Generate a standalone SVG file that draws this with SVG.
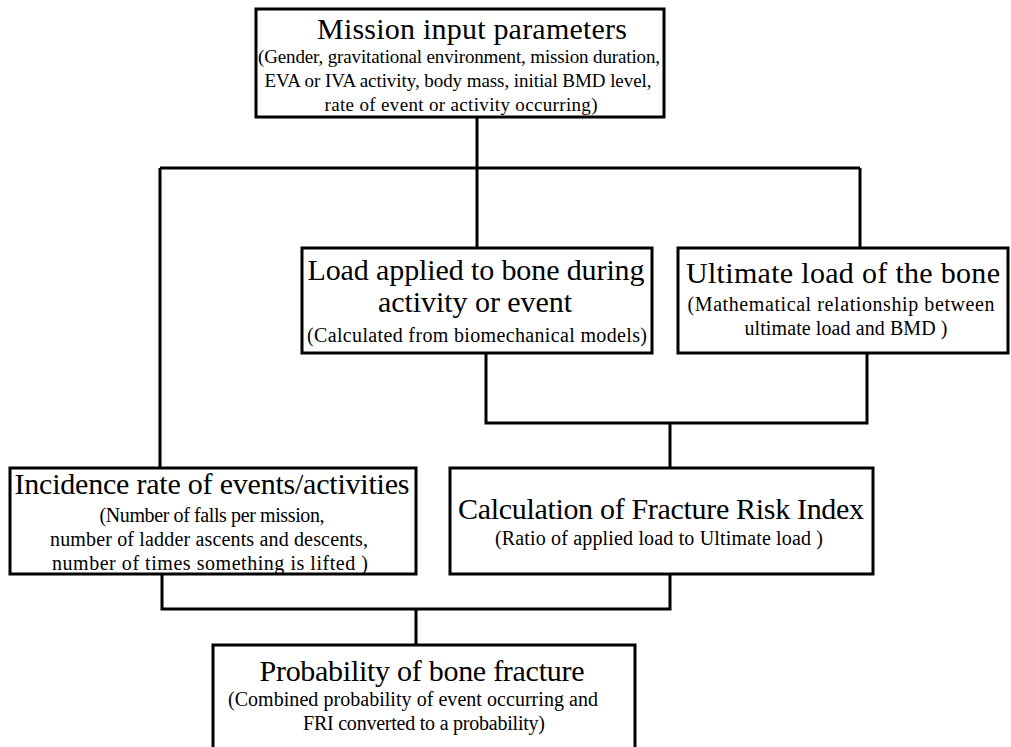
<svg xmlns="http://www.w3.org/2000/svg" width="1011" height="747" viewBox="0 0 1011 747">
<style>
.box{fill:#fff;stroke:#000;stroke-width:3}
.ln{fill:none;stroke:#000;stroke-width:3}
.t{font-size:30px;fill:#000;text-anchor:middle}
.s{font-size:20px;fill:#000;text-anchor:middle}
.s2{font-size:19px;fill:#000;text-anchor:middle}
</style>
<rect width="1011" height="747" fill="#fff"/>
<g id="connectors">
<path class="ln" d="M477,117V248M160,168H860M160,168V468M860,168V248"/>
<path class="ln" d="M486,353V423H867V353M670,423V468"/>
<path class="ln" d="M162,574V609H670V574M416,609V645"/>
</g>
<g font-family="'Liberation Serif', 'DejaVu Serif', serif">
<g id="mission">
<rect class="box" x="256" y="9" width="408" height="108"/>
<text class="t" x="472" y="39" textLength="310">Mission input parameters</text>
<text class="s2" x="459" y="63" textLength="402">(Gender, gravitational environment, mission duration,</text>
<text class="s2" x="458" y="87" textLength="387">EVA or IVA activity, body mass, initial BMD level,</text>
<text class="s2" x="461" y="111" textLength="273">rate of event or activity occurring)</text>
</g>
<g id="load">
<rect class="box" x="302" y="248" width="350" height="105"/>
<text class="t" x="476" y="280" textLength="337">Load applied to bone during</text>
<text class="t" x="475" y="312" textLength="194">activity or event</text>
<text class="s" x="477" y="342" textLength="340">(Calculated from biomechanical models)</text>
</g>
<g id="ultimate">
<rect class="box" x="678" y="248" width="330" height="105"/>
<text class="t" x="843" y="283" textLength="314">Ultimate load of the bone</text>
<text class="s" x="841" y="311" textLength="307">(Mathematical relationship between</text>
<text class="s" x="846" y="335" textLength="203">ultimate load and BMD )</text>
</g>
<g id="incidence">
<rect class="box" x="10" y="468" width="406" height="106"/>
<text class="t" x="212" y="494" textLength="395">Incidence rate of events/activities</text>
<text class="s" x="212" y="522" textLength="225">(Number of falls per mission,</text>
<text class="s" x="209" y="546" textLength="318">number of ladder ascents and descents,</text>
<text class="s" x="210" y="570" textLength="316">number of times something is lifted )</text>
</g>
<g id="fri">
<rect class="box" x="450" y="468" width="423" height="106"/>
<text class="t" x="661" y="519" textLength="406">Calculation of Fracture Risk Index</text>
<text class="s" x="659" y="545" textLength="328">(Ratio of applied load to Ultimate load )</text>
</g>
<g id="probability">
<rect class="box" x="213" y="645" width="422" height="120"/>
<text class="t" x="422" y="681" textLength="325">Probability of bone fracture</text>
<text class="s" x="413" y="706" textLength="370">(Combined probability of event occurring and</text>
<text class="s" x="424" y="730" textLength="242">FRI converted to a probability)</text>
</g>
</g>
</svg>
